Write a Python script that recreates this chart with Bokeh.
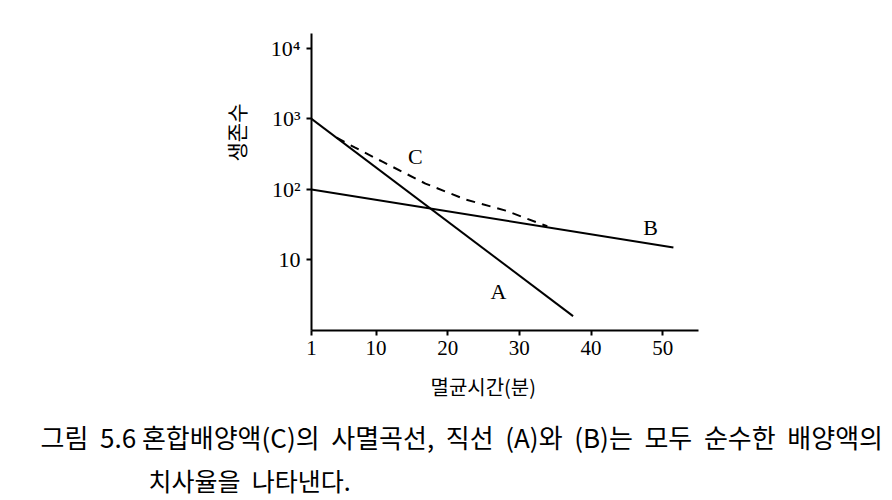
from bokeh.plotting import figure
from bokeh.models import Label, FixedTicker, Title
from bokeh.embed import file_html
from bokeh.resources import INLINE

# Data (time in minutes, survivors on log scale)
a_time = [1, 37.5]
a_count = [1000, 1.6]
b_time = [1, 51.5]
b_count = [100, 15]
c_time = [4.5, 7.1, 10.9, 16.9, 22.5, 28.1, 33.9]
c_count = [540, 390, 247, 121, 72, 50, 30]

x_ticks = [1, 10, 20, 30, 40, 50]
y_ticks = [10, 100, 1000, 10000]
y_tick_labels = {10: "10", 100: "10²", 1000: "10³", 10000: "10⁴"}

curve_labels = ["A", "B", "C"]
curve_label_x = [27.1, 48.3, 15.5]
curve_label_y = [3.6, 29, 290]

x_title = "멸균시간(분)"
y_title = "생존수"
S = "\u00a0\u00a0"
caption_lines = ["그림" + S + "5.6 혼합배양액(C)의" + S + "사멸곡선," + S + "직선" + S + "(A)와" + S
                 + "(B)는" + S + "모두" + S + "순수한" + S + "배양액의",
                 "치사율을" + S + "나타낸다."]

W, H = 892, 500
p = figure(width=W, height=H, x_range=(1, 55), y_range=(1, 10 ** 4.21),
           y_axis_type="log", output_backend="svg", toolbar_location=None,
           min_border_left=311, min_border_right=W - 698,
           min_border_top=33, min_border_bottom=H - 332)
p.outline_line_color = None
p.grid.visible = False

serif = "Liberation Serif"
kfont = "Noto Sans CJK KR"
for ax in (p.xaxis, p.yaxis):
    ax.axis_line_width = 2
    ax.axis_line_color = "black"
    ax.major_tick_line_width = 2
    ax.major_tick_line_color = "black"
    ax.major_tick_in = 0
    ax.major_tick_out = 5
    ax.minor_tick_line_color = None
    ax.major_label_text_font = serif
    ax.major_label_text_color = "black"
p.xaxis.major_label_text_font_size = "21px"
p.yaxis.major_label_text_font_size = "22px"

p.xaxis.ticker = FixedTicker(ticks=x_ticks)
p.yaxis.ticker = FixedTicker(ticks=y_ticks)
p.yaxis.major_label_overrides = {k: v for k, v in y_tick_labels.items()}
p.yaxis.major_label_standoff = 6
p.xaxis.major_label_standoff = 5

p.line(a_time, a_count, line_color="black", line_width=2)
p.line(b_time, b_count, line_color="black", line_width=2)
p.line(c_time, c_count, line_color="black", line_width=2, line_dash="9 7")

for t, x, y in zip(curve_labels, curve_label_x, curve_label_y):
    p.add_layout(Label(x=x, y=y, text=t, text_font=serif, text_font_size="22px",
                       text_align="center", text_baseline="middle", text_color="black"))

p.add_layout(Title(text=y_title, align="right", offset=70, standoff=33,
                   text_font=kfont, text_font_size="21px", text_font_style="normal",
                   text_color="black"), "left")
p.add_layout(Title(text=x_title, align="left", offset=119, standoff=24,
                   text_font=kfont, text_font_size="20px", text_font_style="normal",
                   text_color="black"), "below")

caption_offsets = [40 - 311, 148 - 311]
caption_standoffs = [6, 5]
caption_sizes = ["26px", "25px"]
for t, off, so, fs in zip(caption_lines, caption_offsets, caption_standoffs, caption_sizes):
    p.add_layout(Title(text=t, align="left", offset=off, standoff=so,
                       text_font=kfont, text_font_size=fs, text_font_style="normal",
                       text_color="black"), "below")

open("out.html", "w").write(file_html(p, INLINE))
